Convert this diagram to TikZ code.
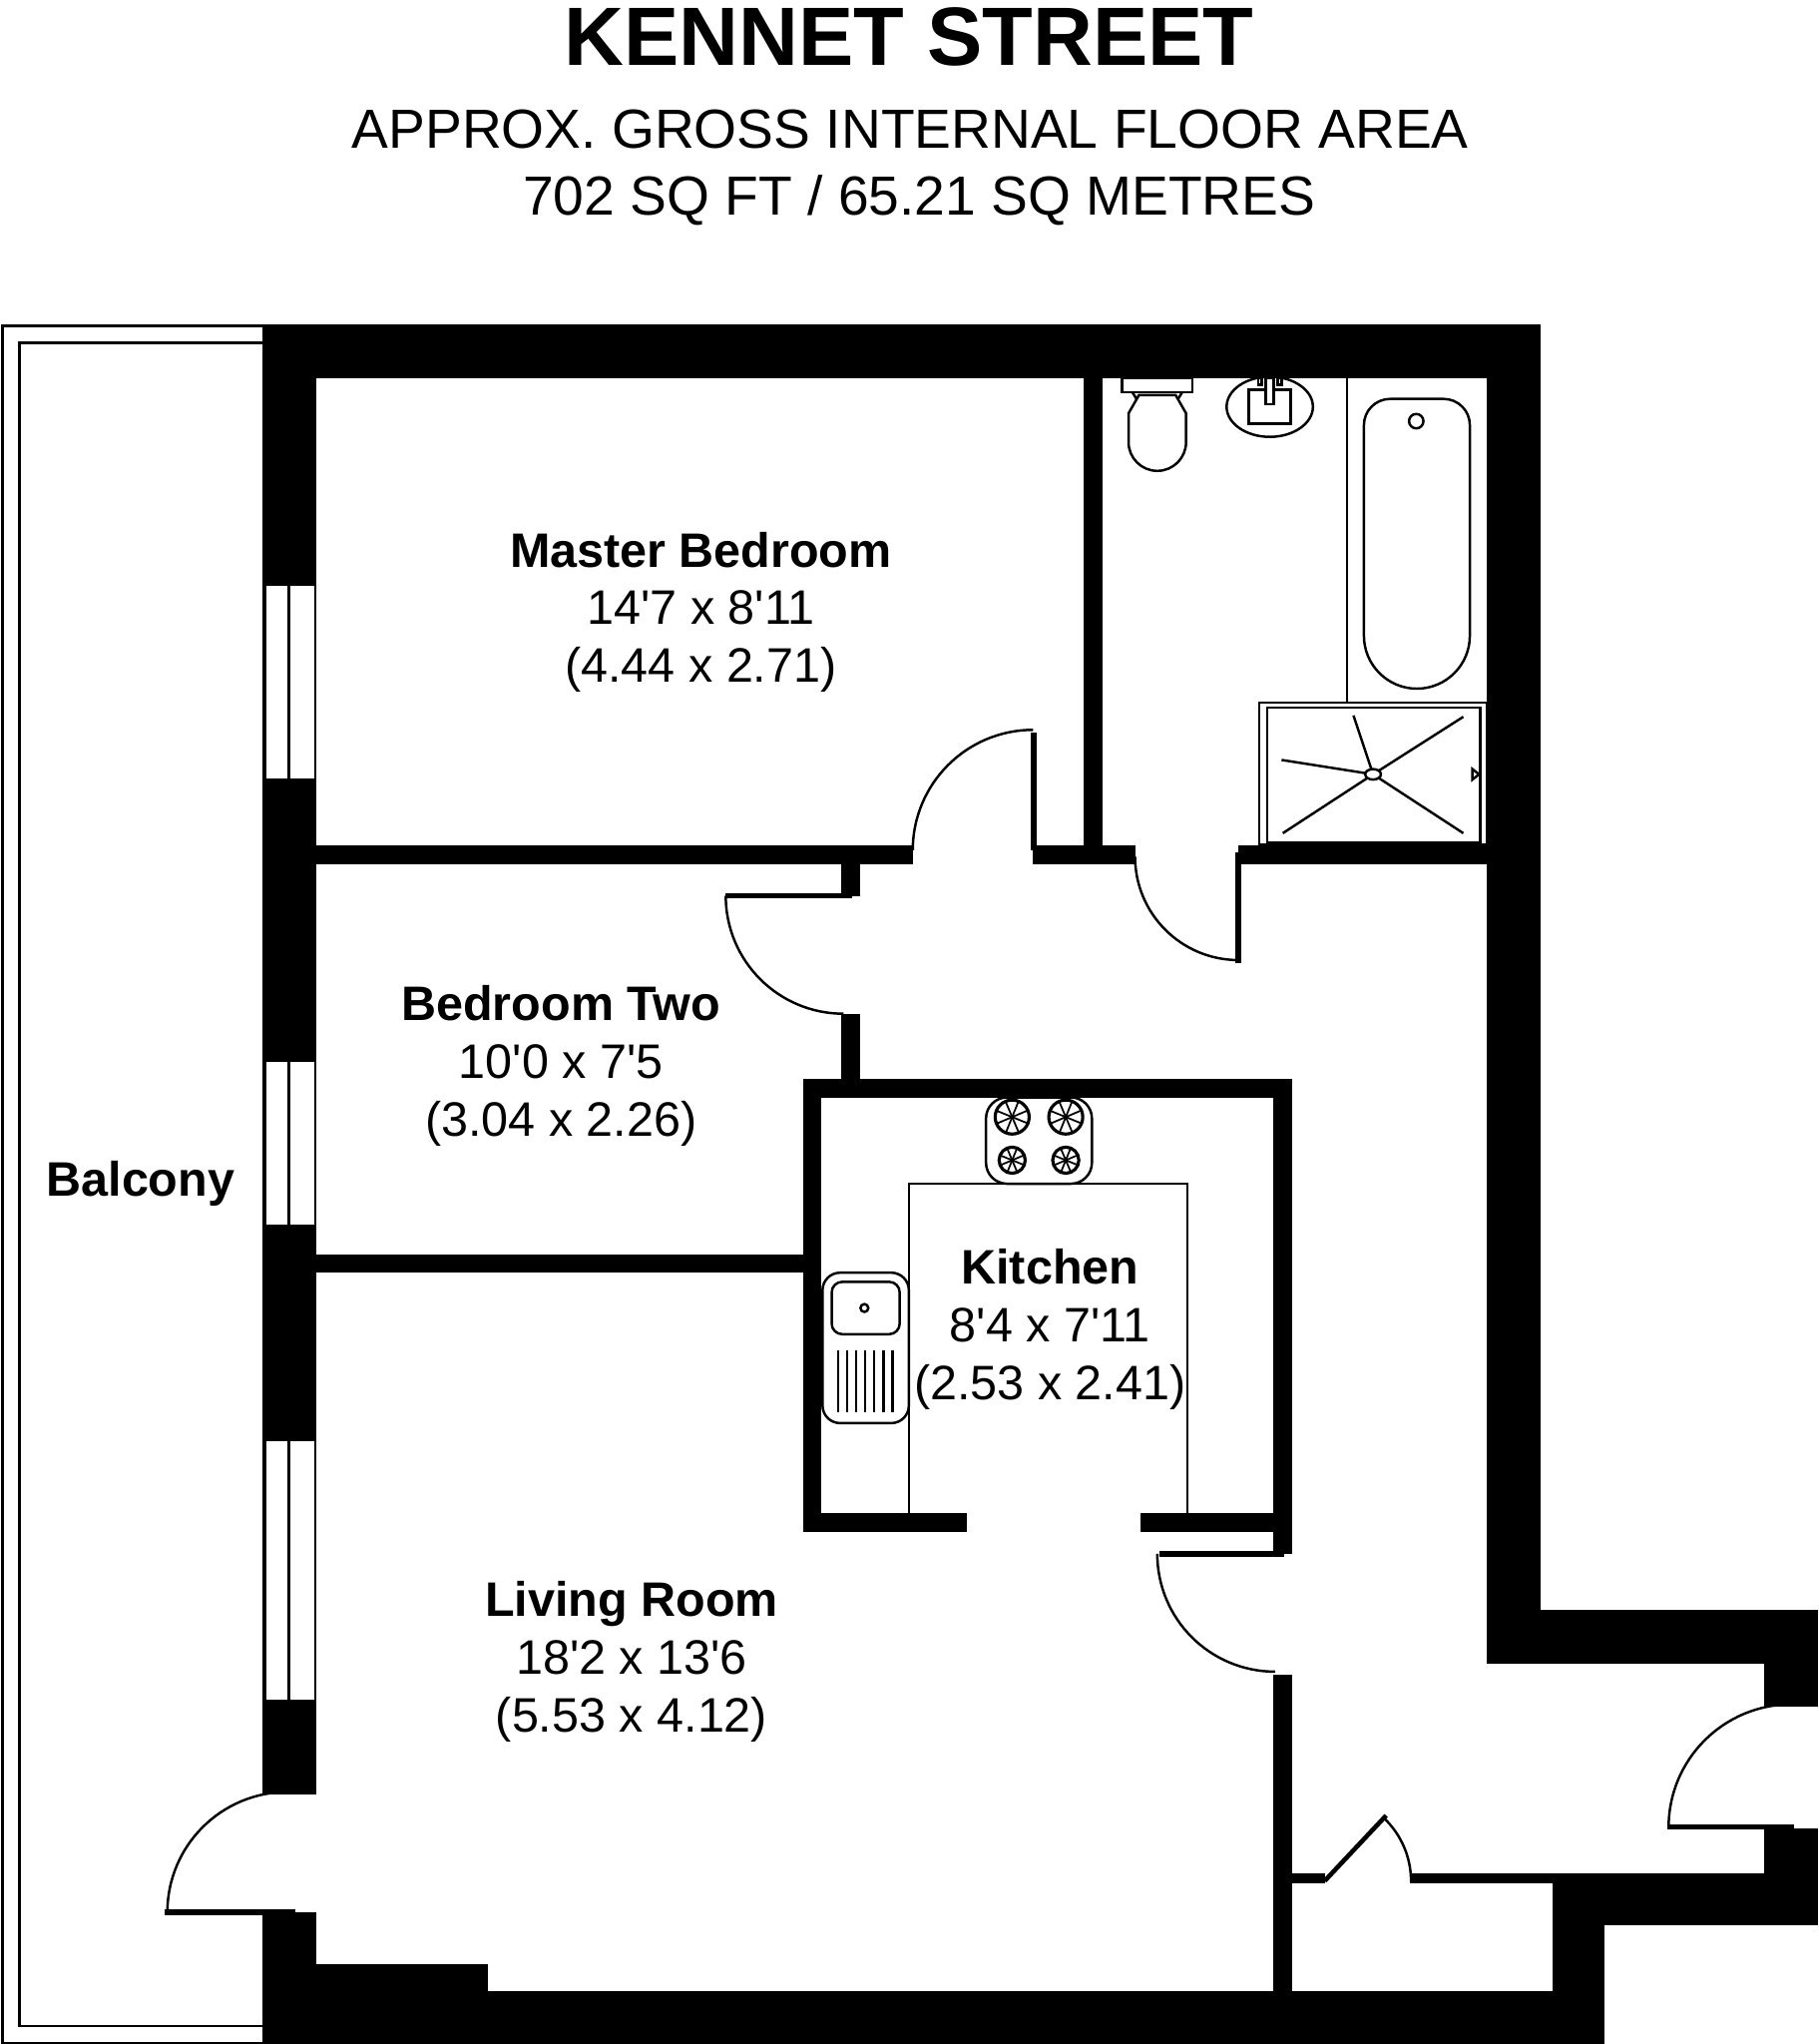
\documentclass[tikz,border=0pt]{standalone}
\usepackage{fontspec}
\setmainfont{Liberation Sans}
\newfontfamily\plainfont{Liberation Sans}
\tikzset{
	wall/.style={fill=black},
	windowbox/.style={draw=black, fill=white, line width=.6pt},
	fitting/.style={draw=black, fill=white, line width=.7pt},
	hairline/.style={draw=black, line width=.7pt},
	roomlabel/.style={align=center, inner sep=0pt, font=\plainfont\fontsize{13.8}{16.45}\selectfont},
}
\begin{document}
\begin{tikzpicture}[x=0.013106cm, y=0.013106cm, yscale=-1]
\useasboundingbox (0, 0) rectangle (1391, 1562.7);
\node[font=\fontsize{23.6}{26}\bfseries] (title) at (695, 28) {KENNET STREET};
\node[font=\fontsize{15.7}{19}\selectfont] (area) at (696, 98.5) {APPROX. GROSS INTERNAL FLOOR AREA};
\node[font=\fontsize{15.7}{19}\selectfont] (size) at (703, 153.5) {702 SQ FT / 65.21 SQ METRES};
\draw[hairline] (202, 249) -- (2, 249) -- (2, 1562) -- (202, 1562);
\draw[hairline] (202, 262) -- (15, 262) -- (15, 1549) -- (202, 1549);
\foreach \xa/\ya/\xb/\yb in {201/248/1178/289, 201/248/242/1372, 1137/248/1178/1272, 1137/1231/1390/1272,
	1349/1231/1390/1305, 1349/1398/1390/1472, 1187/1432/1390/1472, 1187/1432/1227/1563, 1078/1432/1349/1440,
	988/1432/1013/1440, 201/1462/242/1563, 242/1502/373/1563, 201/1522/1227/1563,
	242/646/698/661, 790/646/868/661, 947/646/1137/661, 829/289/843/646, 643/661/658/685, 643/775/658/825,
	242/959/614/973, 614/825/988/839, 614/825/628/1171, 614/1157/739/1171, 872/1157/988/1171,
	974/825/988/1188, 974/1280/988/1522} {
	\fill[wall] (\xa, \ya) rectangle (\xb, \yb);
}
% door leaves
\foreach \xa/\ya/\xb/\yb in {788/560/793/650, 945/652/949/736, 555/683/652/687, 887/1186/982/1190,
	126/1460/226/1464, 1275/1395/1372/1399} {
	\fill[wall] (\xa, \ya) rectangle (\xb, \yb);
}
\draw[line width=1.3pt] (1013, 1438) -- (1060, 1388);
\foreach \cx/\cy/\r/\a/\b in {790/650/92/180/270, 947/655/79/180/90, 645/685/90/180/90, 975/1188/90/180/90,
	220/1462/92/180/270, 1370/1397/94/180/270, 1013/1438/66/314/360} {
	\draw[hairline] (\cx, \cy) ++(\a:\r) arc (\a:\b:\r);
}
% windows
\foreach \ya/\yb in {447/596, 811/937, 1101/1300} {
	\draw[windowbox] (203, \ya) rectangle (241, \yb);
	\draw[hairline] (221, \ya) -- (221, \yb);
}
% bathroom
\draw[fitting] (858, 289) rectangle (912, 300);
\draw[hairline] (866, 300) -- (871, 308) (904, 300) -- (899, 308);
\draw[fitting] (871, 302) -- (899, 302) -- (907, 316) -- (907, 338) arc (0:180:22) -- (863, 316) -- cycle;
\draw[fitting] (971, 311) ellipse (33 and 23);
\draw[fitting] (955, 298) rectangle (987, 324);
\draw[fitting] (962, 289) rectangle (965, 294);
\draw[fitting] (977, 289) rectangle (980, 294);
\draw[fitting] (968, 289) rectangle (974, 309);
\draw[hairline] (1030, 289) -- (1030, 537);
\draw[fitting] (1043, 486) -- (1043, 325) arc (180:270:20) -- (1104, 305) arc (270:360:20) -- (1124, 486) arc (0:180:40.5) -- cycle;
\draw[fitting] (1083, 322) circle (5.5);
\draw[fitting] (963, 537) rectangle (1137, 646);
\draw[fitting] (969, 541) rectangle (1132, 644);
\foreach \x/\y in {1035/547, 1119/548, 980/581, 981/637, 1119/637} {
	\draw[hairline] (1050, 592) -- (\x, \y);
}
\draw[fitting] (1050, 592) ellipse (6 and 4);
\draw[hairline, fill=white] (1126, 588) -- (1131, 592) -- (1126, 596) -- cycle;
% kitchen
\draw[hairline] (695, 1157) -- (695, 905) -- (908, 905) -- (908, 1157);
\draw[fitting, rounded corners=6] (754, 839) rectangle (835, 905);
\foreach \x/\y/\r in {774/854/13, 815/854/13, 774/887/10, 815/887/10} {
	\draw[hairline, line width=.9pt] (\x, \y) circle (\r);
	\foreach \t in {0, 45, ..., 315} {
		\draw[hairline, line width=.5pt] (\x, \y) -- ++(\t+22:\r);
	}
}
\draw[fitting, rounded corners=5] (629, 973) rectangle (695, 1088);
\draw[fitting, rounded corners=3] (636, 980) rectangle (688, 1020);
\draw[fitting] (661, 1000) circle (3);
\foreach \i in {0, 1, ..., 6} {
	\draw[hairline] (641+\i*6.9, 1032) -- (641+\i*6.9, 1080);
}
\node[roomlabel] (master) at (536, 468) {\textbf{Master Bedroom}\\14'7 x 8'11\\(4.44 x 2.71)};
\node[roomlabel] (bedtwo) at (429, 815) {\textbf{Bedroom Two}\\10'0 x 7'5\\(3.04 x 2.26)};
\node[roomlabel] (kitchen) at (803, 1016.5) {\textbf{Kitchen}\\8'4 x 7'11\\(2.53 x 2.41)};
\node[roomlabel] (living) at (483, 1270.5) {\textbf{Living Room}\\18'2 x 13'6\\(5.53 x 4.12)};
\node[roomlabel] (balcony) at (107.5, 905) {\textbf{Balcony}};
\end{tikzpicture}
\end{document}
